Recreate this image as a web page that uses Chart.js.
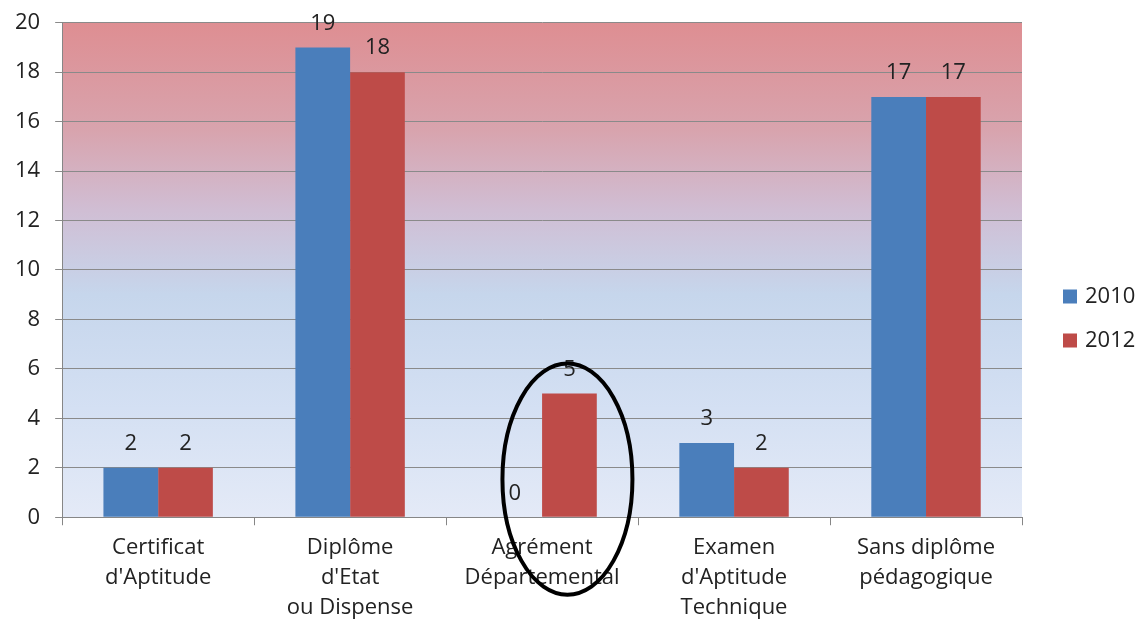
<!DOCTYPE html>
<html>
<head>
<meta charset="utf-8">
<script src="https://cdn.jsdelivr.net/npm/chart.js@4"></script>
<style>
  html, body { margin: 0; padding: 0; background: #fff; }
  #wrap { width: 1143px; height: 623px; }
</style>
</head>
<body>
<div id="wrap"><canvas id="chart"></canvas></div>
<script>
// categories (multi-line labels) and values
const categories = [
    ['Certificat', "d'Aptitude"],
    ['Diplôme', "d'Etat", 'ou Dispense'],
    ['Agrément', 'Départemental'],
    ['Examen', "d'Aptitude", 'Technique'],
    ['Sans diplôme', 'pédagogique']
];
const seriesNames = ['2010', '2012'];
const values2010 = [2, 19, 0, 3, 17];
const values2012 = [2, 18, 5, 2, 17];
const yTicks = [0, 2, 4, 6, 8, 10, 12, 14, 16, 18, 20];

const FONT = '"Open Sans", Lato, sans-serif';

// gradient fill behind the plot area
const plotBackground = {
    id: 'plotBackground',
    beforeDraw(chart) {
        const { ctx, chartArea: a } = chart;
        const g = ctx.createLinearGradient(0, a.top, 0, a.bottom);
        g.addColorStop(0, 'rgb(222,142,146)');
        g.addColorStop(0.22, 'rgb(216,164,174)');
        g.addColorStop(0.38, 'rgb(208,190,212)');
        g.addColorStop(0.55, 'rgb(198,214,236)');
        g.addColorStop(0.78, 'rgb(212,224,243)');
        g.addColorStop(1, 'rgb(228,234,247)');
        ctx.save();
        ctx.fillStyle = g;
        ctx.fillRect(a.left, a.top, a.right - a.left, a.bottom - a.top);
        ctx.restore();
    }
};

// value labels above each bar + the hand-drawn ellipse around Agrément
const barLabels = {
    id: 'barLabels',
    afterDatasetsDraw(chart) {
        const { ctx } = chart;
        ctx.save();
        ctx.font = '22px ' + FONT;
        ctx.fillStyle = '#222';
        ctx.textAlign = 'center';
        ctx.textBaseline = 'middle';
        chart.data.datasets.forEach((ds, i) => {
            chart.getDatasetMeta(i).data.forEach((bar, j) => {
                ctx.fillText(ds.data[j], bar.x, bar.y - 24);
            });
        });

        // ellipse around the 2012 bar of "Agrément Départemental"
        const bar = chart.getDatasetMeta(1).data[2];
        const top = bar.y - 30;
        const bottom = bar.base + 78;
        ctx.beginPath();
        ctx.ellipse(bar.x - 2, (top + bottom) / 2, 65, (bottom - top) / 2, 0, 0, Math.PI * 2);
        ctx.lineWidth = 4;
        ctx.strokeStyle = '#000';
        ctx.stroke();
        ctx.restore();
    }
};

// legend on the right, drawn from the datasets
const sideLegend = {
    id: 'sideLegend',
    afterDraw(chart) {
        const { ctx, chartArea: a } = chart;
        const x = a.right + 41;
        const y0 = chart.height / 2 - 15;
        ctx.save();
        ctx.font = '22px ' + FONT;
        ctx.textBaseline = 'middle';
        chart.data.datasets.forEach((ds, i) => {
            const y = y0 + i * 44;
            ctx.fillStyle = ds.backgroundColor;
            ctx.fillRect(x, y - 7, 14, 14);
            ctx.fillStyle = '#222';
            ctx.fillText(ds.label, x + 22, y);
        });
        ctx.restore();
    }
};

new Chart(document.getElementById('chart'), {
    type: 'bar',
    data: {
        labels: categories,
        datasets: [
            { label: seriesNames[0], data: values2010, backgroundColor: '#4a7ebb' },
            { label: seriesNames[1], data: values2012, backgroundColor: '#be4b48' }
        ]
    },
    options: {
        responsive: true,
        maintainAspectRatio: false,
        animation: false,
        layout: { padding: { left: 0, top: 0, right: 121, bottom: -8 } },
        datasets: {
            bar: { categoryPercentage: 0.57, barPercentage: 1.0 }
        },
        plugins: {
            legend: { display: false },
            tooltip: { enabled: false }
        },
        scales: {
            x: {
                grid: {
                    drawOnChartArea: false,
                    color: '#868686',
                    tickLength: 8,
                    offset: true
                },
                border: { color: '#868686' },
                ticks: {
                    color: '#222',
                    padding: 8,
                    maxRotation: 0,
                    font: { family: FONT, size: 22, lineHeight: 1.36 }
                }
            },
            y: {
                min: 0,
                max: 20,
                afterBuildTicks(axis) {
                    axis.ticks = yTicks.map(v => ({ value: v }));
                },
                grid: {
                    color: '#8a8a8a',
                    tickLength: 7
                },
                border: { color: '#868686' },
                ticks: {
                    color: '#222',
                    padding: 15,
                    font: { family: FONT, size: 22, lineHeight: 0.7 }
                }
            }
        }
    },
    plugins: [plotBackground, barLabels, sideLegend]
});
</script>
</body>
</html>
